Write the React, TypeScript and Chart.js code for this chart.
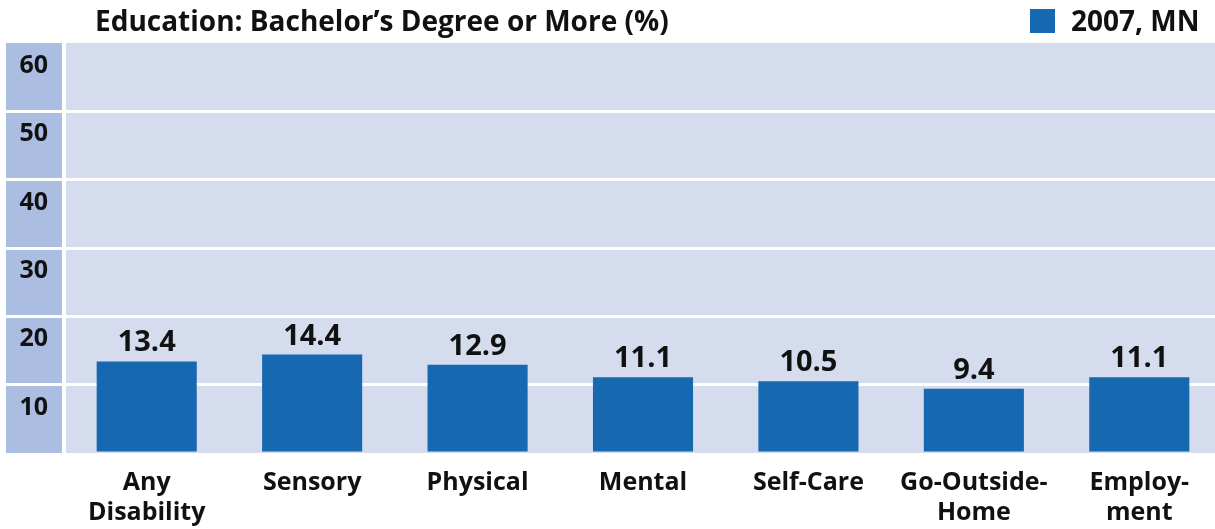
import React, { useEffect, useRef } from "react";
import { Chart, registerables } from "chart.js";

Chart.register(...registerables);

const categories: (string | string[])[] = [
  ["Any", "Disability"],
  "Sensory",
  "Physical",
  "Mental",
  "Self-Care",
  ["Go-Outside-", "Home"],
  ["Employ-", "ment"],
];
const values2007 = [13.4, 14.4, 12.9, 11.1, 10.5, 9.4, 11.1];
const seriesLabel = "2007, MN";
const titleText = "Education: Bachelor\u2019s Degree or More (%)";
const yMin = 0;
const yMax = 60;
const yStep = 10;

const BAR = "#1668b0";
const PLOT_BG = "#d4dcee";
const STRIP = "#abbde0";
const TEXT = "#111111";
const FONT = "'Open Sans', 'DejaVu Sans', sans-serif";

const backgroundPlugin = {
  id: "bgPanels",
  beforeDraw(chart: any) {
    const { ctx, chartArea } = chart;
    const { left, right, top, bottom } = chartArea;
    ctx.save();
    ctx.fillStyle = STRIP;
    ctx.fillRect(6, top, left - 2 - 6, bottom - top);
    ctx.fillStyle = PLOT_BG;
    ctx.fillRect(left + 2, top, right - left - 2, bottom - top);
    ctx.restore();
  },
};

const labelsPlugin = {
  id: "valueLabels",
  afterDatasetsDraw(chart: any) {
    const { ctx } = chart;
    const meta = chart.getDatasetMeta(0);
    const data = chart.data.datasets[0].data as number[];
    ctx.save();
    ctx.fillStyle = TEXT;
    ctx.font = `bold 29px ${FONT}`;
    ctx.textAlign = "center";
    ctx.textBaseline = "alphabetic";
    meta.data.forEach((bar: any, i: number) => {
      ctx.fillText(data[i].toFixed(1), bar.x, bar.y - 10);
    });
    ctx.restore();
  },
  afterDraw(chart: any) {
    const { ctx } = chart;
    ctx.save();
    ctx.fillStyle = TEXT;
    ctx.font = `bold 28px ${FONT}`;
    ctx.textAlign = "left";
    ctx.textBaseline = "alphabetic";
    ctx.fillText(titleText, 95, 31);
    const ds = chart.data.datasets[0];
    ctx.fillStyle = ds.backgroundColor;
    ctx.fillRect(1030, 9, 25, 24);
    ctx.fillStyle = TEXT;
    ctx.font = `bold 28px ${FONT}`;
    ctx.fillText(ds.label, 1071, 31);
    ctx.restore();
  },
};

export default function App() {
  const ref = useRef<HTMLCanvasElement | null>(null);

  useEffect(() => {
    document.body.style.margin = "0";
    if (!ref.current) return;
    const chart = new Chart(ref.current, {
      type: "bar",
      data: {
        labels: categories,
        datasets: [
          {
            label: seriesLabel,
            data: values2007,
            backgroundColor: BAR,
            borderWidth: 0,
            barPercentage: 1,
            categoryPercentage: 0.605,
          },
        ],
      },
      options: {
        responsive: false,
        animation: false,
        layout: { padding: { top: 43, bottom: 0, left: 0, right: 0 } },
        plugins: {
          legend: { display: false },
          title: { display: false },
          tooltip: { enabled: false },
        },
        scales: {
          x: {
            afterFit: (s: any) => {
              s.height = 76;
            },
            grid: { display: false, drawTicks: false, tickLength: 0 },
            border: { display: false },
            ticks: {
              color: TEXT,
              padding: 15,
              maxRotation: 0,
              autoSkip: false,
              font: { family: FONT, size: 25, weight: "bold", lineHeight: 1.2 },
            },
          },
          y: {
            min: yMin,
            max: yMax,
            afterFit: (s: any) => {
              s.width = 64;
            },
            border: { display: false },
            grid: {
              color: (c: any) =>
                c.tick && (c.tick.value === yMin || c.tick.value === yMax) ? "rgba(0,0,0,0)" : "#ffffff",
              lineWidth: 3,
              drawTicks: true,
              tickLength: 58,
            },
            ticks: {
              stepSize: yStep,
              padding: -42,
              labelOffset: 23,
              crossAlign: "center",
              color: TEXT,
              font: { family: FONT, size: 25, weight: "bold" },
              callback: (v: any) => (v === yMin ? "" : String(v)),
            },
          },
        },
      },
      plugins: [backgroundPlugin, labelsPlugin],
    } as any);
    return () => chart.destroy();
  }, []);

  return (
    <div style={{ width: 1215, height: 529, overflow: "hidden", position: "relative" }}>
      <canvas ref={ref} width={1222} height={529} style={{ width: 1222, height: 529, display: "block" }} />
    </div>
  );
}
